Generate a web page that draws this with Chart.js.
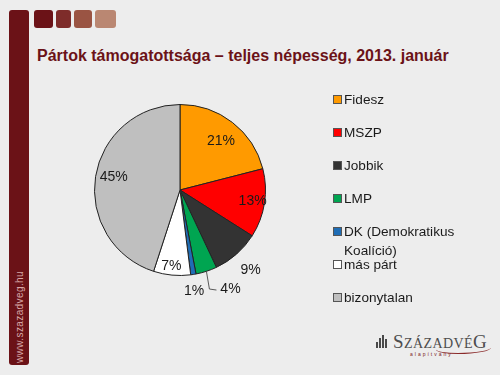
<!DOCTYPE html>
<html>
<head>
<meta charset="utf-8">
<script src="https://cdn.jsdelivr.net/npm/chart.js@4"></script>
<style>
  html, body { margin: 0; padding: 0; }
  body { width: 500px; height: 375px; background: #ededed; position: relative; overflow: hidden; font-family: "Liberation Sans", Arial, sans-serif; }
  .sideBar { position: absolute; left: 9px; top: 10px; width: 20px; height: 355px; background: #6b1217; border-radius: 3px; }
  .sq { position: absolute; top: 10px; height: 18px; border-radius: 3px; }
  .title { position: absolute; left: 37px; top: 47px; font-size: 16px; font-weight: bold; color: #6b1217; white-space: nowrap; }
  .web { position: absolute; left: 19px; top: 317px; transform: translate(-50%, -50%) rotate(-90deg); font-size: 10px; color: #d8a8a8; white-space: nowrap; letter-spacing: 0.4px; }
  .logo { position: absolute; left: 376px; top: 333px; }
  .logo .bars span { position: absolute; width: 2px; background: #4a4a4a; }
  .logo .name { position: absolute; left: 17px; top: 0px; font-family: "Liberation Serif", serif; font-size: 14px; color: #4d4d4d; letter-spacing: 0.4px; white-space: nowrap; line-height: 18px; }
  .logo .name b { font-weight: normal; font-size: 19px; }
  .logo .sub { position: absolute; left: 34px; top: 18px; font-size: 5px; color: #7a1a1a; letter-spacing: 2px; white-space: nowrap; }
  .logo .swoosh { position: absolute; left: 60px; top: 10px; width: 55px; height: 10px; border-bottom: 1.5px solid #8a2a2a; border-radius: 0 0 60% 40%; }
  #wrap { position: absolute; left: 0; top: 0; width: 500px; height: 375px; }
</style>
</head>
<body>
<div class="sideBar"></div>
<div class="sq" style="left:34px;width:19px;background:#6b1217"></div>
<div class="sq" style="left:56px;width:15px;background:#7e2c2a"></div>
<div class="sq" style="left:74px;width:18px;background:#9a5443"></div>
<div class="sq" style="left:95px;width:21px;background:#ba8772"></div>
<div class="title">Pártok támogatottsága – teljes népesség, 2013. január</div>
<div class="web">www.szazadveg.hu</div>
<div class="logo">
  <div class="bars">
    <span style="left:0;top:9px;height:6px"></span>
    <span style="left:3px;top:5px;height:10px"></span>
    <span style="left:6px;top:2px;height:13px"></span>
    <span style="left:9px;top:6px;height:9px"></span>
  </div>
  <div class="name"><b>S</b>ZÁZADVÉ<b>G</b></div>
  <div class="swoosh"></div>
  <div class="sub">alapítvány</div>
</div>
<div id="wrap"><canvas id="myChart" width="500" height="375"></canvas></div>
<script>
const parties = ['Fidesz', 'MSZP', 'Jobbik', 'LMP', 'DK (Demokratikus\nKoalíció)', 'más párt', 'bizonytalan'];
const shares = [21, 13, 9, 4, 1, 7, 45];
const partyColors = ['#ff9a00', '#ff0000', '#333333', '#00a551', '#1f6db5', '#ffffff', '#bfbfbf'];

// where each percent label sits: share of the radius, and a turn in degrees
const labelRadius = [0.75, 0.86, 1.25, 1.3, 1.19, 0.9, 0.79];
const labelTurn = [2, 0, 0, -9, 1, 1, 2];

const pieLabels = {
  id: 'pieLabels',
  afterDatasetsDraw(chart) {
    const ctx = chart.ctx;
    const arcs = chart.getDatasetMeta(0).data;
    ctx.save();
    ctx.font = '14px "Liberation Sans", Arial, sans-serif';
    ctx.fillStyle = '#1a1a1a';
    ctx.textAlign = 'center';
    ctx.textBaseline = 'middle';
    arcs.forEach((arc, i) => {
      const p = arc.getProps(['x', 'y', 'startAngle', 'endAngle', 'outerRadius'], true);
      const mid = (p.startAngle + p.endAngle) / 2;
      const a = mid + labelTurn[i] * Math.PI / 180;
      const r = p.outerRadius * labelRadius[i];
      const lx = p.x + Math.cos(a) * r;
      const ly = p.y + Math.sin(a) * r;
      if (parties[i] === 'LMP') {
        const ex = p.x + Math.cos(mid) * p.outerRadius;
        const ey = p.y + Math.sin(mid) * p.outerRadius;
        ctx.strokeStyle = '#333';
        ctx.lineWidth = 0.8;
        ctx.beginPath();
        ctx.moveTo(ex, ey);
        ctx.lineTo(ex + 3, ly);
        ctx.lineTo(lx - 14, ly + 1);
        ctx.stroke();
      }
      ctx.fillText(shares[i] + '%', lx, ly);
    });
    ctx.restore();
  }
};

const sideLegend = {
  id: 'sideLegend',
  afterDraw(chart) {
    const ctx = chart.ctx;
    ctx.save();
    ctx.font = '13.6px "Liberation Sans", Arial, sans-serif';
    ctx.textBaseline = 'middle';
    parties.forEach((name, i) => {
      const y = 100 + i * 33;
      ctx.fillStyle = partyColors[i];
      ctx.fillRect(333.5, y - 4.5, 8, 8);
      ctx.strokeStyle = '#555';
      ctx.lineWidth = 1;
      ctx.strokeRect(333.5, y - 4.5, 8, 8);
      ctx.fillStyle = '#1a1a1a';
      name.split('\n').forEach((line, k) => {
        ctx.fillText(line, 344, y + k * 19);
      });
    });
    ctx.restore();
  }
};

new Chart(document.getElementById('myChart'), {
  type: 'pie',
  data: {
    labels: parties,
    datasets: [{
      data: shares,
      backgroundColor: partyColors,
      borderColor: '#222',
      borderWidth: 1
    }]
  },
  options: {
    responsive: false,
    animation: false,
    layout: { padding: { left: 94, right: 234, top: 104, bottom: 99 } },
    plugins: {
      legend: { display: false },
      tooltip: { enabled: false }
    }
  },
  plugins: [pieLabels, sideLegend]
});
</script>
</body>
</html>
